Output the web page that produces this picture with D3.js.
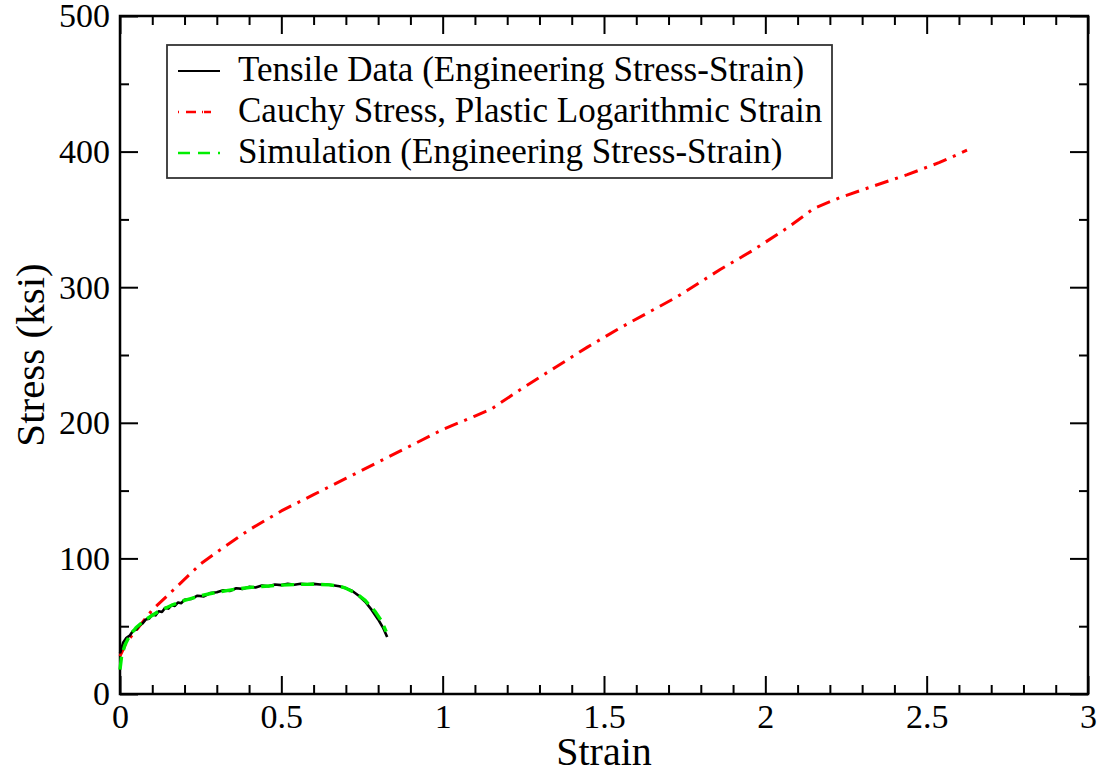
<!DOCTYPE html>
<html><head><meta charset="utf-8">
<script src="https://cdn.jsdelivr.net/npm/d3@7"></script>
<style>body{margin:0;background:#fff}svg{display:block}</style>
</head><body>
<svg id="c" width="1099" height="772"></svg>
<script>
// ---- data ----
const xTicks = [0, 0.5, 1, 1.5, 2, 2.5, 3];
const xTickLabels = ["0", "0.5", "1", "1.5", "2", "2.5", "3"];
const yTicks = [0, 100, 200, 300, 400, 500];
const yTickLabels = ["0", "100", "200", "300", "400", "500"];
const seriesNames = [
  "Tensile Data (Engineering Stress-Strain)",
  "Cauchy Stress, Plastic Logarithmic Strain",
  "Simulation (Engineering Stress-Strain)"
];
const tensileStrain = [0,0.01,0.02,0.03,0.04,0.05,0.06,0.07,0.08,0.09,0.1,0.11,0.12,0.13,0.14,0.15,0.16,0.17,0.18,0.19,0.2,0.22,0.24,0.26,0.28,0.3,0.32,0.34,0.36,0.38,0.4,0.42,0.44,0.46,0.48,0.5,0.52,0.54,0.56,0.58,0.6,0.62,0.64,0.66,0.68,0.7,0.72,0.74,0.76,0.78,0.8,0.815,0.828];
const tensileStress = [30,38,41.5,43,46.5,47.5,50.5,52,55,55.5,58.5,58,61,60.5,63.5,63,65.5,65,67.5,67,69.5,70,72.5,72,74.5,75,76.5,76,78,77.5,79,78.5,80,79.5,80.8,80.3,81.2,80.6,81.3,80.9,81.2,80.8,80.7,80.2,79.5,78,76,72.5,68,62,55,49,42];
const cauchyStrain = [0,0.02,0.06,0.1,0.18,0.25,0.32,0.4,0.5,0.6,0.7,0.8,0.9,1.0,1.1,1.15,1.25,1.35,1.45,1.55,1.65,1.72,1.86,1.96,2.07,2.15,2.23,2.34,2.44,2.54,2.625];
const cauchyStress = [28,38,50,62,80,96,108,121,135,147,159,171,183,195,205,210,226,241,256,270,283,292,313,327,344,358,366,375,383,392,401];
const simStrain = [0,0.005,0.015,0.03,0.05,0.08,0.12,0.16,0.2,0.25,0.3,0.35,0.4,0.45,0.5,0.55,0.6,0.65,0.68,0.7,0.73,0.76,0.79,0.81,0.825];
const simStress = [18,28,36,43,49,55,61,65.5,69,72.5,75,77,78.5,79.5,80.3,80.8,81,80.5,79.5,78,74.5,69,61,54,46];

// ---- layout ----
const svg = d3.select("#c");
const L = 120, R = 1088, T = 16, B = 694;
const x = d3.scaleLinear().domain([0, 3]).range([L, R]);
const y = d3.scaleLinear().domain([0, 500]).range([B, T]);
const serif = "'Liberation Serif', 'Times New Roman', serif";

function styleAxis(g, fs) {
  g.select(".domain").remove();
  g.selectAll(".tick line").attr("stroke", "#000").attr("stroke-width", 2);
  g.selectAll("text").attr("font-family", serif).attr("font-size", fs).attr("fill", "#000");
}
const xMinor = d3.range(0, 3.0001, 0.1).filter(v => Math.abs(v*2 - Math.round(v*2)) > 1e-6);
const yMinor = d3.range(50, 500, 100);

// bottom
svg.append("g").attr("transform", `translate(0,${B})`)
  .call(d3.axisBottom(x).tickValues(xMinor).tickSize(-9).tickFormat("")).call(g => styleAxis(g, 34));
svg.append("g").attr("transform", `translate(0,${B})`)
  .call(d3.axisBottom(x).tickValues(xTicks).tickSize(-18).tickPadding(10).tickFormat((d,i) => xTickLabels[i]))
  .call(g => styleAxis(g, 34));
// top
svg.append("g").attr("transform", `translate(0,${T})`)
  .call(d3.axisTop(x).tickValues(xMinor).tickSize(-9).tickFormat("")).call(g => styleAxis(g, 34));
svg.append("g").attr("transform", `translate(0,${T})`)
  .call(d3.axisTop(x).tickValues(xTicks).tickSize(-18).tickFormat("")).call(g => styleAxis(g, 34));
// left
svg.append("g").attr("transform", `translate(${L},0)`)
  .call(d3.axisLeft(y).tickValues(yMinor).tickSize(-9).tickFormat("")).call(g => styleAxis(g, 34));
svg.append("g").attr("transform", `translate(${L},0)`)
  .call(d3.axisLeft(y).tickValues(yTicks).tickSize(-18).tickPadding(10).tickFormat((d,i) => yTickLabels[i]))
  .call(g => styleAxis(g, 34));
// right
svg.append("g").attr("transform", `translate(${R},0)`)
  .call(d3.axisRight(y).tickValues(yMinor).tickSize(-9).tickFormat("")).call(g => styleAxis(g, 34));
svg.append("g").attr("transform", `translate(${R},0)`)
  .call(d3.axisRight(y).tickValues(yTicks).tickSize(-18).tickFormat("")).call(g => styleAxis(g, 34));

// frame
svg.append("rect").attr("x", L).attr("y", T).attr("width", R - L).attr("height", B - T)
  .attr("fill", "none").attr("stroke", "#000").attr("stroke-width", 2.5);

// axis titles
svg.append("text").attr("x", x(1.5)).attr("y", 765).attr("text-anchor", "middle")
  .attr("font-family", serif).attr("font-size", 40).text("Strain");
svg.append("text").attr("transform", `translate(44,${y(250)}) rotate(-90)`).attr("text-anchor", "middle")
  .attr("font-family", serif).attr("font-size", 41).text("Stress (ksi)");

// lines
const line = d3.line().x(d => x(d[0])).y(d => y(d[1]));
const zip = (a, b) => a.map((v, i) => [v, b[i]]);
const styles = [
  {color: "#000", dash: null, width: 2.6},
  {color: "#ff0000", dash: "14,7,3,7", width: 3},
  {color: "#00ee00", dash: "13,7", width: 3.4}
];
const data = [zip(tensileStrain, tensileStress), zip(cauchyStrain, cauchyStress), zip(simStrain, simStress)];
[1, 0, 2].forEach(i => {
  svg.append("path").datum(data[i]).attr("d", line)
    .attr("fill", "none").attr("stroke", styles[i].color).attr("stroke-width", styles[i].width)
    .attr("stroke-dasharray", styles[i].dash).attr("stroke-linejoin", "round");
});

// legend
const lg = svg.append("g");
lg.append("rect").attr("x", 167).attr("y", 45).attr("width", 665).attr("height", 133)
  .attr("fill", "#fff").attr("stroke", "#333").attr("stroke-width", 1.8);
seriesNames.forEach((name, i) => {
  const by = 81 + i * 41;
  lg.append("line").attr("x1", 178).attr("x2", 220).attr("y1", by - 10).attr("y2", by - 10)
    .attr("stroke", styles[i].color).attr("stroke-width", i === 0 ? 2 : 2.5)
    .attr("stroke-dasharray", i === 1 ? "1,7,10,6,1" : (i === 2 ? "12,8" : null));
  lg.append("text").attr("x", 238).attr("y", by).attr("font-family", serif).attr("font-size", 35)
    .text(name);
});
</script>
</body></html>
